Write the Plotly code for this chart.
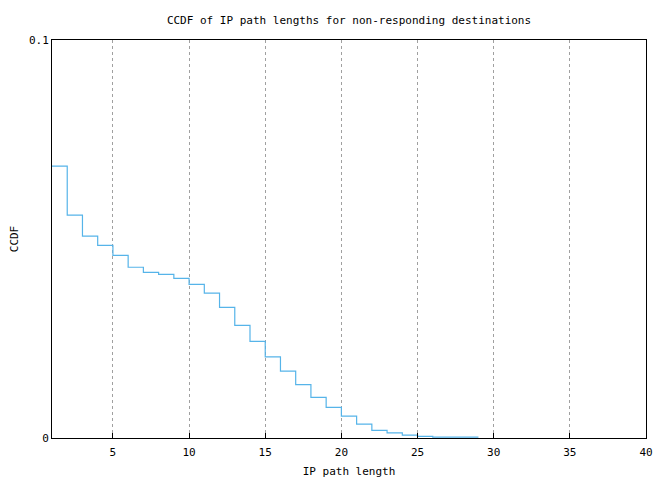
import plotly.graph_objects as go

path_length = list(range(1, 30))
ccdf = [0.0683, 0.0560, 0.0507, 0.0484, 0.0459, 0.0429, 0.0416, 0.0411, 0.0401,
        0.0386, 0.0364, 0.0328, 0.0283, 0.0243, 0.0204, 0.0168, 0.0134, 0.0102,
        0.0077, 0.0055, 0.0035, 0.0019, 0.0013, 0.0007, 0.0004, 0.0002, 0.0002,
        0.0002, 0.0002]
x_ticks = [5, 10, 15, 20, 25, 30, 35, 40]
y_ticks = [0, 0.1]
y_ticktext = ["0", "0.1"]

font = "DejaVu Sans Mono"

# page body has an 8px default margin; compensate
W, H = 657, 472

fig = go.Figure()
fig.add_trace(go.Scatter(x=path_length, y=ccdf, mode="lines", line_shape="hv",
                         line=dict(color="#56b4e9", width=1.2), showlegend=False))

fig.update_layout(
    width=W, height=H,
    margin=dict(l=44, r=19, t=32, b=42, autoexpand=False),
    paper_bgcolor="white", plot_bgcolor="white",
    font=dict(family=font, size=11, color="black"),
    title=dict(text="CCDF of IP path lengths for non-responding destinations",
               x=0.5, xanchor="center", xref="paper",
               y=1 - 12 / H, yanchor="middle", yref="container",
               font=dict(family=font, size=11), automargin=False),
)
fig.update_xaxes(
    range=[1, 40], tickvals=x_ticks, showgrid=True, griddash="dot",
    gridcolor="#a0a0a0", gridwidth=1, showline=True, linecolor="black",
    linewidth=1, mirror=True, ticks="inside", ticklen=5, tickcolor="black",
    zeroline=False, automargin=False, ticklabelstandoff=4,
    title=dict(text="IP path length", standoff=9, font=dict(family=font, size=11)),
)
fig.update_yaxes(
    range=[0, 0.1], tickvals=y_ticks, ticktext=y_ticktext, showgrid=False,
    showline=True, linecolor="black", linewidth=1, mirror=True,
    ticks="", zeroline=False, automargin=False,
    title=dict(text="CCDF", standoff=10, font=dict(family=font, size=11)),
)

fig.write_html("out.html")
